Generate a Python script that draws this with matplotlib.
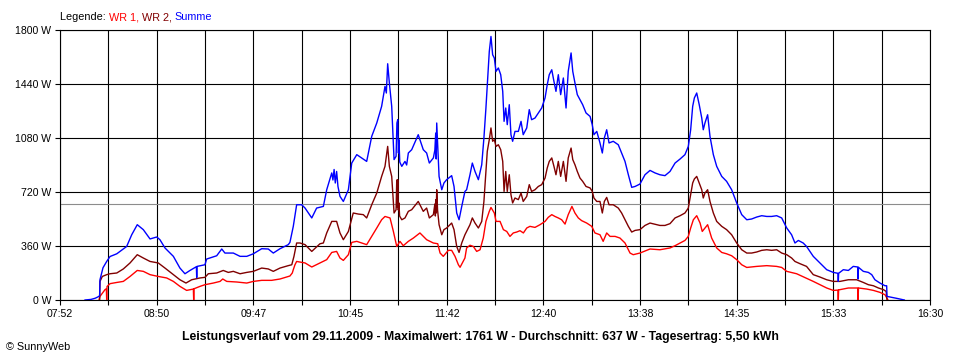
import matplotlib
matplotlib.use('Agg')
import matplotlib.pyplot as plt
import numpy as np

plt.rcParams['font.family'] = ['Liberation Sans', 'DejaVu Sans']

# ---- data (time in minutes since midnight, power in W) ----
t_sum = [486.9, 490.5, 493.0, 495.2, 495.6, 495.8, 497.6, 499.8, 501.8, 505.8, 511.7, 514.7, 518.0, 521.6,
         525.6, 529.6, 531.5, 534.5, 539.5, 543.4, 546.4, 549.4, 553.2, 553.4, 553.6, 558.3, 559.3, 565.3,
         568.3, 570.2, 575.2, 579.2, 583.2, 587.1, 592.1, 596.0, 599.0, 603.0, 607.9, 608.9, 610.9, 612.9,
         615.9, 617.9, 621.9, 624.8, 628.8, 630.8, 633.8, 634.5, 635.2, 635.9, 636.7, 637.5, 638.7, 640.7,
         643.7, 645.7, 648.7, 651.6, 654.6, 657.6, 660.6, 663.5, 665.5, 666.3, 667.1, 668.1, 669.5, 670.9,
         672.1, 672.6, 673.1, 673.5, 673.8, 674.3, 675.5, 677.4, 678.4, 679.4, 681.4, 685.3, 688.3, 690.3,
         691.9, 694.3, 695.2, 695.7, 696.0, 696.3, 697.7, 699.3, 700.6, 702.2, 705.2, 706.6, 708.2, 709.6,
         711.2, 713.1, 714.1, 716.1, 717.5, 719.1, 721.1, 723.1, 724.4, 725.6, 726.4, 727.6, 728.6, 729.6,
         730.6, 731.6, 733.0, 734.4, 735.6, 736.4, 737.4, 738.3, 739.5, 740.5, 741.5, 742.9, 744.9, 746.5,
         747.8, 749.9, 751.4, 752.8, 754.8, 756.8, 758.8, 760.8, 762.1, 763.3, 764.8, 766.1, 767.3, 768.7,
         770.1, 771.7, 773.3, 774.6, 776.3, 777.3, 778.6, 780.0, 781.6, 783.2, 785.2, 787.6, 788.9, 789.9,
         791.6, 793.5, 794.9, 796.1, 797.5, 798.9, 801.4, 804.4, 806.4, 808.4, 810.4, 812.4, 814.4, 817.3,
         820.3, 823.3, 826.3, 829.2, 832.2, 835.2, 838.2, 841.2, 844.1, 846.1, 847.5, 848.7, 849.7, 851.1,
         852.6, 854.1, 855.0, 856.0, 857.6, 859.0, 861.0, 863.0, 866.0, 868.9, 871.9, 874.9, 877.9, 880.9,
         883.8, 886.8, 889.8, 892.8, 895.7, 898.7, 901.7, 904.7, 907.6, 909.6, 911.6, 914.5, 916.5, 920.5,
         924.5, 928.5, 932.4, 935.2, 935.4, 935.6, 938.4, 941.4, 944.3, 947.0, 947.2, 947.4, 950.3, 953.3,
         955.3, 957.2, 960.2, 963.2, 964.2, 964.4, 966.2, 970.2, 974.7]
p_sum = [0, 4, 12, 24, 32, 135, 215, 257, 290, 308, 357, 435, 502, 469,
         407, 420, 402, 347, 291, 213, 175, 197, 222, 149, 224, 235, 273, 295,
         340, 313, 313, 291, 291, 308, 342, 340, 313, 342, 369, 384, 491, 635,
         635, 613, 547, 613, 624, 735, 847, 800, 870, 780, 857, 757, 691, 657,
         735, 913, 969, 947, 924, 1091, 1180, 1291, 1424, 1380, 1575, 1447, 1291, 936,
         958, 1180, 1202, 980, 1069, 920, 891, 924, 900, 980, 1002, 1102, 1002, 980,
         913, 947, 1000, 1113, 940, 1180, 824, 735, 780, 802, 829, 757, 580, 535,
         624, 724, 735, 835, 913, 857, 802, 902, 1080, 1280, 1435, 1657, 1757, 1635,
         1613, 1524, 1547, 1502, 1391, 1191, 1280, 1169, 1302, 1102, 1058, 1124, 1124, 1191,
         1102, 1147, 1269, 1202, 1213, 1247, 1280, 1347, 1435, 1502, 1535, 1457, 1391, 1502,
         1369, 1480, 1280, 1524, 1647, 1524, 1447, 1369, 1335, 1302, 1247, 1224, 1169, 1102,
         1124, 1047, 980, 1080, 1135, 1047, 1058, 1035, 980, 924, 835, 751, 757, 773,
         835, 864, 847, 835, 829, 857, 913, 940, 969, 1024, 1135, 1291, 1347, 1380,
         1302, 1213, 1135, 1180, 1235, 1091, 969, 891, 824, 791, 735, 647, 569, 535,
         540, 553, 562, 557, 557, 562, 547, 480, 435, 380, 397, 380, 357, 291,
         247, 202, 184, 178, 124, 178, 202, 197, 224, 220, 140, 218, 191, 184,
         169, 135, 113, 95, 95, 24, 20, 11, 0]

t_wr2 = [495.6, 495.8, 497.2, 499.8, 501.8, 505.8, 509.7, 513.7, 518.0, 521.6, 525.6, 530.5, 534.5, 539.5,
         543.4, 547.0, 550.4, 555.4, 558.3, 560.3, 565.3, 569.2, 572.2, 575.2, 579.2, 583.2, 587.1, 592.1,
         596.0, 599.0, 603.0, 607.9, 610.0, 611.3, 612.9, 614.9, 617.9, 621.9, 626.8, 628.8, 630.8, 633.8,
         636.7, 638.7, 640.7, 643.7, 646.6, 649.6, 652.6, 654.6, 657.6, 660.6, 663.5, 665.5, 667.1, 668.1,
         669.5, 670.9, 672.1, 672.5, 672.8, 673.1, 673.4, 673.8, 674.2, 675.5, 677.4, 679.4, 681.4, 685.3,
         688.3, 690.3, 691.9, 694.3, 695.2, 695.5, 695.7, 696.0, 696.3, 696.8, 697.7, 699.3, 700.6, 702.2,
         705.2, 706.6, 708.2, 709.6, 711.2, 713.1, 716.1, 717.5, 719.1, 721.1, 723.1, 724.4, 725.6, 726.4,
         727.6, 728.6, 729.6, 730.6, 731.6, 733.0, 734.4, 735.6, 736.4, 737.4, 738.3, 739.5, 740.5, 741.5,
         742.9, 744.9, 746.5, 747.8, 749.9, 751.4, 752.8, 754.8, 756.8, 758.8, 760.8, 762.1, 763.3, 764.8,
         766.1, 767.3, 768.7, 770.1, 771.7, 773.3, 774.6, 776.3, 777.3, 778.6, 780.0, 781.6, 783.2, 785.2,
         787.6, 788.9, 789.9, 791.6, 793.5, 794.9, 796.1, 797.5, 798.9, 801.4, 804.4, 806.4, 808.4, 810.4,
         812.4, 814.4, 817.3, 820.3, 823.3, 829.2, 832.2, 835.2, 838.2, 841.2, 844.1, 846.1, 847.5, 848.7,
         849.7, 851.1, 852.6, 854.1, 855.0, 856.0, 857.6, 859.0, 861.0, 863.0, 866.0, 868.9, 871.9, 874.9,
         877.9, 880.9, 883.8, 886.8, 889.8, 892.8, 895.7, 898.7, 901.7, 904.7, 907.6, 909.6, 912.6, 916.5,
         920.5, 924.5, 928.5, 932.4, 936.4, 941.4, 946.3, 950.3, 953.3, 956.3, 959.3, 962.3, 963.9, 964.4]
p_wr2 = [0, 124, 157, 169, 175, 180, 207, 247, 302, 280, 257, 247, 213, 169,
         135, 113, 135, 147, 151, 175, 180, 197, 184, 191, 175, 184, 191, 213,
         207, 191, 213, 229, 235, 291, 380, 380, 369, 324, 375, 380, 447, 524,
         524, 447, 402, 457, 580, 573, 569, 547, 635, 713, 824, 891, 1024, 891,
         824, 580, 602, 800, 620, 802, 600, 647, 560, 535, 547, 591, 602, 657,
         591, 613, 547, 569, 640, 560, 669, 580, 735, 600, 502, 435, 469, 480,
         513, 469, 357, 317, 380, 435, 502, 547, 513, 480, 524, 657, 857, 991,
         1069, 1147, 1058, 1069, 1024, 1035, 1002, 924, 724, 857, 724, 835, 702, 647,
         680, 669, 713, 657, 691, 769, 724, 735, 757, 769, 813, 880, 924, 947,
         891, 835, 924, 824, 924, 791, 947, 1013, 936, 902, 857, 813, 791, 757,
         747, 724, 680, 657, 657, 580, 657, 684, 635, 635, 613, 580, 535, 491,
         453, 464, 469, 497, 513, 497, 497, 509, 547, 562, 580, 613, 702, 780,
         807, 824, 780, 735, 680, 713, 735, 657, 580, 524, 491, 469, 435, 380,
         335, 313, 313, 320, 331, 335, 331, 335, 313, 302, 280, 257, 242, 224,
         169, 153, 135, 124, 124, 135, 135, 117, 102, 95, 80, 69, 57, 0]

t_wr1 = [495.2, 495.8, 498.8, 499.6, 499.8, 500.0, 501.8, 505.8, 509.7, 513.7, 518.0, 521.6, 525.6, 530.5,
         535.5, 539.5, 543.4, 547.4, 551.4, 551.6, 551.8, 555.4, 558.3, 563.3, 567.3, 568.9, 571.3, 577.2,
         583.2, 587.1, 592.1, 598.0, 603.0, 607.9, 608.9, 610.3, 610.9, 611.9, 612.9, 617.9, 621.9, 626.8,
         630.8, 633.8, 636.7, 638.7, 640.7, 643.7, 645.7, 648.7, 651.6, 654.6, 657.6, 660.6, 663.5, 665.5,
         668.5, 670.5, 672.5, 674.4, 676.4, 679.4, 682.4, 686.3, 690.3, 694.3, 696.9, 698.3, 700.2, 703.2,
         705.2, 707.2, 709.2, 710.2, 713.1, 714.1, 716.1, 718.1, 720.1, 722.1, 724.0, 725.6, 727.6, 728.6,
         730.6, 731.6, 734.0, 736.0, 738.0, 739.9, 741.9, 743.9, 745.9, 747.9, 749.9, 751.8, 754.8, 757.8,
         760.8, 762.7, 764.8, 766.7, 768.7, 770.7, 772.7, 774.6, 776.8, 778.6, 780.6, 782.6, 785.6, 788.6,
         790.5, 793.5, 795.4, 797.5, 799.5, 802.5, 805.4, 808.4, 811.4, 813.3, 817.3, 823.3, 829.2, 835.2,
         838.2, 841.2, 844.1, 846.1, 847.5, 849.1, 851.1, 853.1, 854.4, 856.0, 857.6, 860.0, 863.0, 866.0,
         868.9, 871.9, 874.9, 877.9, 880.9, 886.8, 892.8, 898.7, 901.7, 904.7, 910.6, 917.5, 920.5, 924.5,
         928.5, 932.4, 935.2, 935.4, 935.6, 936.4, 941.4, 946.3, 947.0, 947.2, 947.4, 952.3, 956.3, 960.2,
         963.2, 965.0]
p_wr1 = [0, 24, 69, 75, 0, 90, 109, 117, 124, 157, 197, 191, 169, 157,
         147, 124, 91, 64, 73, 0, 75, 91, 102, 113, 124, 140, 124, 120,
         113, 124, 131, 131, 140, 157, 160, 180, 202, 235, 257, 247, 220, 247,
         269, 317, 324, 280, 264, 302, 384, 391, 380, 369, 424, 480, 535, 557,
         547, 457, 357, 391, 362, 391, 413, 447, 402, 380, 375, 313, 291, 331,
         331, 291, 235, 218, 280, 347, 365, 357, 324, 335, 413, 524, 591, 617,
         580, 524, 524, 469, 457, 424, 447, 453, 462, 447, 480, 491, 484, 502,
         524, 551, 569, 557, 547, 535, 506, 569, 624, 580, 547, 529, 513, 491,
         447, 435, 391, 447, 424, 424, 413, 380, 313, 302, 313, 340, 335, 347,
         362, 380, 397, 424, 480, 535, 562, 513, 457, 480, 502, 413, 347, 317,
         308, 295, 269, 235, 217, 224, 229, 224, 217, 191, 175, 140, 124, 102,
         80, 64, 66, 0, 68, 69, 80, 80, 80, 0, 80, 73, 64, 51,
         35, 0]

x_tick_labels = ['07:52', '08:50', '09:47', '10:45', '11:42', '12:40', '13:38', '14:35', '15:33', '16:30']
t_start, t_end = 472.0, 990.0
y_ticks = [0, 360, 720, 1080, 1440, 1800]
avg_power = 637
series_names = ['WR 1', 'WR 2', 'Summe']
title_text = ("Leistungsverlauf vom 29.11.2009 - Maximalwert: 1761 W - "
              "Durchschnitt: 637 W - Tagesertrag: 5,50 kWh")
copyright_text = '\u00a9 SunnyWeb'

# ---- figure ----
W, H = 960, 360
fig = plt.figure(figsize=(W / 100, H / 100), dpi=100)
fig.patch.set_facecolor('white')
ax = fig.add_axes([60 / W, 60 / H, 870 / W, 270 / H])

c_wr1, c_wr2, c_sum = '#ff0000', '#800000', '#0000ff'
lw = 1.0
ax.plot(t_wr1, p_wr1, color=c_wr1, lw=lw, zorder=3)
ax.plot(t_wr2, p_wr2, color=c_wr2, lw=lw, zorder=4)
ax.plot(t_sum, p_sum, color=c_sum, lw=lw, zorder=5)
ax.axhline(avg_power, color='#8c8c8c', lw=0.8, zorder=2)

ax.set_xlim(t_start, t_end)
ax.set_ylim(0, 1800)
xt = np.linspace(t_start, t_end, 2 * (len(x_tick_labels) - 1) + 1)
ax.set_xticks(xt)
ax.set_xticklabels([x_tick_labels[i // 2] if i % 2 == 0 else '' for i in range(len(xt))])
ax.set_yticks(y_ticks)
ax.set_yticklabels([f'{v} W' for v in y_ticks])
ax.grid(True, color='black', lw=0.8, zorder=1)
ax.set_axisbelow(True)
for s in ax.spines.values():
    s.set_color('black')
    s.set_linewidth(0.8)
ax.tick_params(axis='both', direction='out', length=3.8, width=0.8, colors='black',
               labelsize=7.6, pad=2.5)

# legend line at top
fs = 7.8
t0 = fig.text(60 / W, 1 - 17 / H, 'Legende: ', color='black', fontsize=fs, va='center', ha='left')
prev = t0
cols = [c_wr1, c_wr2, c_sum]
for i, (nm, c) in enumerate(zip(series_names, cols)):
    txt = nm + (', ' if i < len(series_names) - 1 else '')
    prev = ax.annotate(txt, xy=(1, 0.5), xycoords=prev, va='center', ha='left',
                       color=c, fontsize=fs, annotation_clip=False)

fig.text(0.5, 1 - 337 / H, title_text, ha='center', va='center', fontsize=8.8,
         fontweight='bold', color='black')
fig.text(6 / W, 1 - 347 / H, copyright_text, ha='left', va='center', fontsize=7.8, color='black')

fig.savefig('out.png', dpi=100, facecolor='white')
